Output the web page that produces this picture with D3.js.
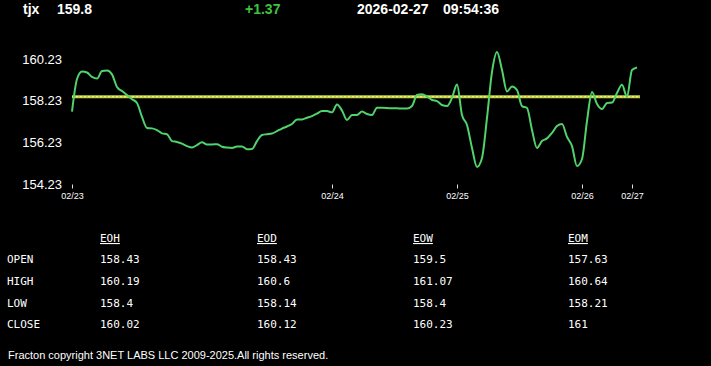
<!DOCTYPE html>
<html>
<head>
<meta charset="utf-8">
<script src="https://cdn.jsdelivr.net/npm/d3@7"></script>
<style>
    body { margin: 0; background: #000; }
    #chart { width: 711px; height: 366px; }
</style>
</head>
<body>
<div id="chart"></div>
<script>

// quote header
let symbol = "tjx";
let lastPrice = "159.8";
let change = "+1.37";
let quoteDate = "2026-02-27";
let quoteTime = "09:54:36";

// intraday closes, one per sample
let prices = [
    157.71, 159.28, 159.64, 159.59, 159.38, 159.30, 159.66, 159.69, 159.50, 158.90,
    158.70, 158.51, 158.31, 158.13, 157.46, 156.93, 156.91, 156.83, 156.67, 156.63,
    156.30, 156.26, 156.18, 156.06, 155.99, 156.11, 156.24, 156.14, 156.14, 156.15,
    156.03, 155.99, 155.97, 156.04, 156.04, 155.91, 155.92, 156.30, 156.59, 156.63,
    156.66, 156.78, 156.90, 157.00, 157.12, 157.34, 157.34, 157.42, 157.50, 157.62,
    157.74, 157.74, 157.68, 158.06, 157.77, 157.31, 157.55, 157.55, 157.72, 157.60,
    157.55, 157.90, 157.90, 157.89, 157.87, 157.87, 157.86, 157.86, 157.98, 158.51,
    158.55, 158.44, 158.27, 158.22, 158.03, 157.98, 158.37, 159.02, 157.55, 157.07,
    155.97, 155.06, 155.49, 157.41, 159.62, 160.58, 159.71, 158.68, 158.92, 158.75,
    157.98, 157.89, 156.83, 155.97, 156.30, 156.43, 156.69, 157.02, 157.12, 156.50,
    156.06, 155.10, 155.44, 157.26, 158.65, 158.08, 157.84, 158.13, 158.15, 158.61,
    159.00, 158.42, 159.71, 159.83
];
let openPrice = 158.43;

// y axis labels and day ticks (sample index where each day starts)
let yTicks = [154.23, 156.23, 158.23, 160.23];
let dayTicks = [0, 52, 77, 102, 112];
let dayLabels = ["02/23", "02/24", "02/25", "02/26", "02/27"];

// summary table
let periods = ["EOH", "EOD", "EOW", "EOM"];
let rowNames = ["OPEN", "HIGH", "LOW", "CLOSE"];
let openVals = ["158.43", "158.43", "159.5", "157.63"];
let highVals = ["160.19", "160.6", "161.07", "160.64"];
let lowVals = ["158.4", "158.14", "158.4", "158.21"];
let closeVals = ["160.02", "160.12", "160.23", "161"];

let footer = "Fracton copyright 3NET LABS LLC 2009-2025.All rights reserved.";

class PriceChart {

    constructor() {

        this.svg = d3.select("#chart")
                    .append("svg")
                        .attr("width", 711)
                        .attr("height", 366)
                        .style("background", "#000");

        this.x = d3.scaleLinear().domain([0, prices.length - 1]).range([72, 637]);
        this.y = d3.scaleLinear().domain([154.23, 160.23]).range([184.2, 59.2]);

        this.drawHeader();
        this.drawPlot();
        this.drawTable();

        this.svg.append("text")
            .attr("x", 8).attr("y", 359)
            .attr("fill", "#fff")
            .style("font", "11px Arial, 'Liberation Sans', sans-serif")
            .text(footer);
    }

    drawHeader() {
        let head = this.svg.append("g")
            .style("font", "bold 14px Arial, 'Liberation Sans', sans-serif");

        head.append("text").attr("x", 23).attr("y", 14).attr("fill", "#fff").text(symbol);
        head.append("text").attr("x", 57).attr("y", 14).attr("fill", "#fff").text(lastPrice);
        head.append("text").attr("x", 245).attr("y", 14).attr("fill", "#3ec43e").text(change);
        head.append("text").attr("x", 357).attr("y", 14).attr("fill", "#fff").text(quoteDate);
        head.append("text").attr("x", 443).attr("y", 14).attr("fill", "#fff").text(quoteTime);
    }

    drawPlot() {
        let x = this.x, y = this.y;

        // y labels, no axis line
        this.svg.append("g")
            .selectAll("text")
            .data(yTicks)
            .enter()
            .append("text")
                .attr("x", 62)
                .attr("y", d => y(d))
                .attr("dy", "0.35em")
                .attr("text-anchor", "end")
                .attr("fill", "#fff")
                .style("font", "13px Arial, 'Liberation Sans', sans-serif")
                .text(d => d.toFixed(2));

        let xAxis = d3.axisBottom(x)
            .tickValues(dayTicks)
            .tickFormat((d, i) => dayLabels[i])
            .tickSize(4)
            .tickPadding(4);

        let gx = this.svg.append("g")
            .attr("transform", "translate(0,184.5)")
            .call(xAxis);
        gx.select(".domain").remove();
        gx.selectAll("line").attr("stroke", "#ddd");
        gx.selectAll("text")
            .attr("fill", "#fff")
            .style("font", "9px Arial, 'Liberation Sans', sans-serif");

        // open price reference line: yellow band with a light dotted core
        let ref = this.svg.append("g");
        ref.append("line")
            .attr("x1", x.range()[0])
            .attr("x2", x.range()[1] + 3)
            .attr("y1", y(openPrice))
            .attr("y2", y(openPrice))
            .attr("stroke", "#c2d040")
            .attr("stroke-width", 3);
        ref.append("line")
            .attr("x1", x.range()[0])
            .attr("x2", x.range()[1] + 3)
            .attr("y1", y(openPrice))
            .attr("y2", y(openPrice))
            .attr("stroke", "#f3f39c")
            .attr("stroke-width", 1)
            .attr("stroke-dasharray", "2,2");

        let line = d3.line()
            .x((d, i) => x(i))
            .y(d => y(d))
            .curve(d3.curveMonotoneX);

        this.svg.append("path")
            .datum(prices)
            .attr("d", line)
            .attr("fill", "none")
            .attr("stroke", "#4fd36a")
            .attr("stroke-width", 2)
            .attr("stroke-linejoin", "round");
    }

    drawTable() {
        let colX = [100, 257, 413, 568];
        let rowY = [263, 285, 307, 328];
        let rows = [openVals, highVals, lowVals, closeVals];
        let font = "11px 'DejaVu Sans Mono', monospace";

        let t = this.svg.append("g").attr("fill", "#fff").style("font", font);

        t.selectAll(".head")
            .data(periods)
            .enter()
            .append("text")
                .attr("class", "head")
                .attr("x", (d, i) => colX[i])
                .attr("y", 242)
                .attr("text-decoration", "underline")
                .text(d => d);

        t.selectAll(".rowname")
            .data(rowNames)
            .enter()
            .append("text")
                .attr("class", "rowname")
                .attr("x", 7)
                .attr("y", (d, i) => rowY[i])
                .text(d => d);

        rows.forEach((vals, r) => {
            t.selectAll(".cell" + r)
                .data(vals)
                .enter()
                .append("text")
                    .attr("class", "cell" + r)
                    .attr("x", (d, i) => colX[i])
                    .attr("y", rowY[r])
                    .text(d => d);
        });
    }
}

let chart = new PriceChart();

</script>
</body>
</html>
